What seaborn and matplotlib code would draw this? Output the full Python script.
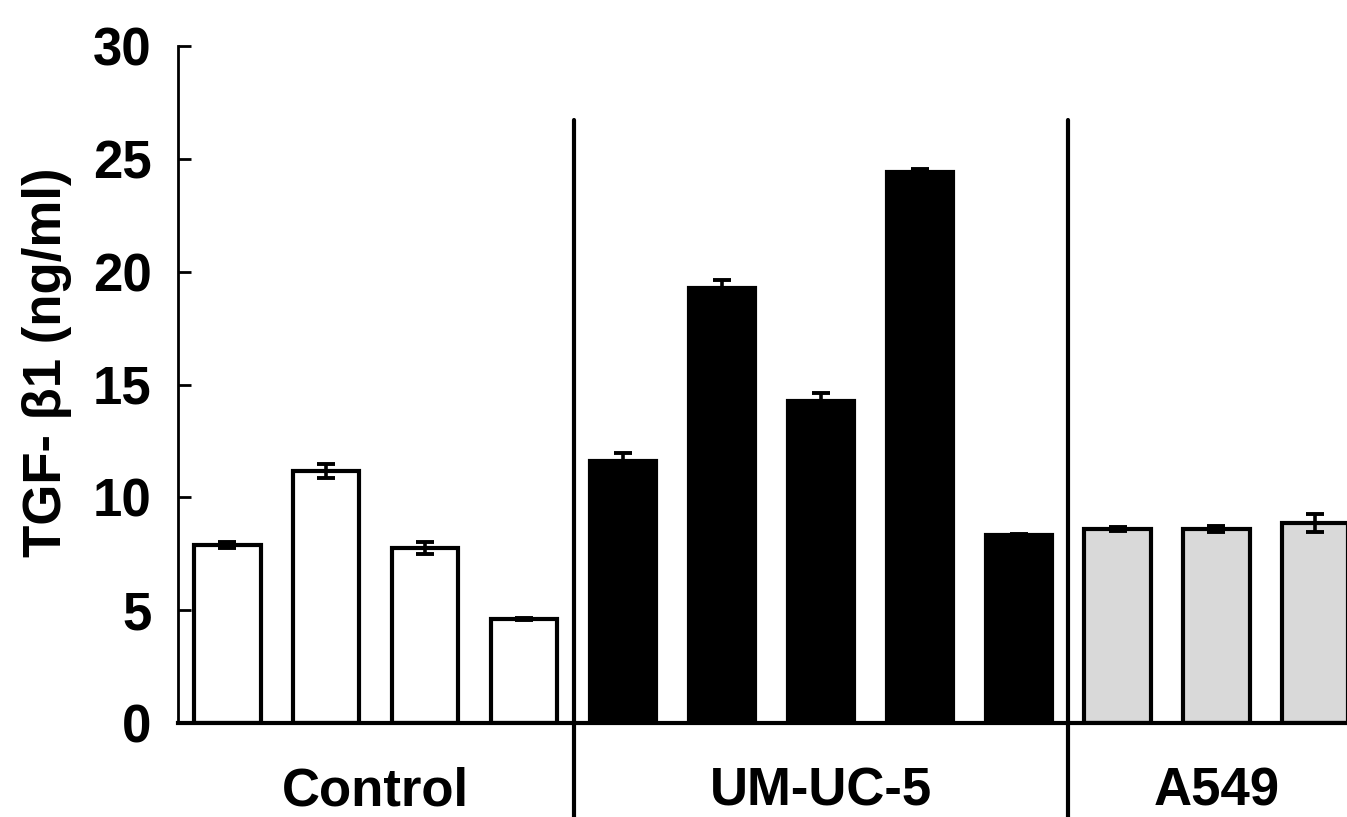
import numpy as np
import pandas as pd
import matplotlib
matplotlib.use("Agg")
import matplotlib.pyplot as plt
import seaborn as sns

# TGF-beta1 secretion per sample, grouped by cell line
groups = ["Control", "UM-UC-5", "A549"]
control_vals = [7.88, 11.17, 7.75, 4.60]
control_err = [0.12, 0.30, 0.25, 0.05]
umuc5_vals = [11.60, 19.27, 14.27, 24.41, 8.33]
umuc5_err = [0.35, 0.35, 0.35, 0.15, 0.06]
a549_vals = [8.60, 8.60, 8.86]
a549_err = [0.10, 0.12, 0.40]
group_colors = ["white", "black", "#d9d9d9"]
y_ticks = [0, 5, 10, 15, 20, 25, 30]
y_label = "TGF- β1 (ng/ml)"

group_vals = [control_vals, umuc5_vals, a549_vals]
group_errs = [control_err, umuc5_err, a549_err]

rows = []
for g, vals, errs in zip(groups, group_vals, group_errs):
    for i, (v, e) in enumerate(zip(vals, errs)):
        rows.append({"sample": f"{g}_{i + 1}", "group": g, "value": v, "sem": e})
df = pd.DataFrame(rows)

sns.set_style("ticks")
plt.rcParams["font.family"] = ["Liberation Sans", "DejaVu Sans"]
plt.rcParams["font.weight"] = "bold"
plt.rcParams["text.color"] = "black"
plt.rcParams["axes.labelcolor"] = "black"
plt.rcParams["axes.edgecolor"] = "black"
plt.rcParams["xtick.color"] = "black"
plt.rcParams["ytick.color"] = "black"

W, H = 1347, 817
fig = plt.figure(figsize=(W / 100, H / 100), dpi=100)
ax = fig.add_axes([178 / W, 94 / H, 1 - 178 / W, 677 / H])

sns.barplot(
    data=df, x="sample", y="value", hue="group",
    order=list(df["sample"]), hue_order=groups,
    palette=dict(zip(groups, group_colors)),
    dodge=False, width=0.67, errorbar=None, legend=False,
    edgecolor="black", linewidth=3.0, saturation=1, ax=ax,
)

xpos = np.arange(len(df))
ax.errorbar(xpos, df["value"], yerr=df["sem"], fmt="none", ecolor="black",
            elinewidth=2.6, capsize=6.5, capthick=2.8, zorder=4)

ax.set_xlim(-0.5, 11.32)
ax.set_ylim(0, 30)
ax.set_yticks(y_ticks)
ax.set_yticklabels([str(t) for t in y_ticks])
ax.tick_params(axis="y", direction="in", length=9, width=2, pad=19,
               labelsize=38, labelcolor="black")
ax.set_xticks([])
ax.set_xlabel("")
ax.set_ylabel("")

for side in ["top", "right"]:
    ax.spines[side].set_visible(False)
ax.spines["left"].set_linewidth(2)
ax.spines["left"].set_color("black")
ax.spines["left"].set_bounds(0, 30)
ax.spines["bottom"].set_linewidth(3)
ax.spines["bottom"].set_color("black")

# group separators and group names
sizes = [len(v) for v in group_vals]
edges = np.cumsum(sizes)
for b in edges[:-1]:
    ax.plot([b - 0.5, b - 0.5], [-5, 26.7], color="black", lw=3,
            clip_on=False, zorder=5)
starts = np.concatenate([[0], edges[:-1]])
trans = matplotlib.transforms.blended_transform_factory(ax.transData, ax.transAxes)
for g, s, n in zip(groups, starts, sizes):
    ax.text(s + (n - 1) / 2, -(805 - 723) / 677, g, transform=trans,
            ha="center", va="baseline", fontsize=38, fontweight="bold",
            color="black")

fig.text(47 / W, (H - 362) / H, y_label, rotation=90, ha="center",
         va="center", fontsize=38, fontweight="bold", color="black")

fig.savefig("out.png", dpi=100)
